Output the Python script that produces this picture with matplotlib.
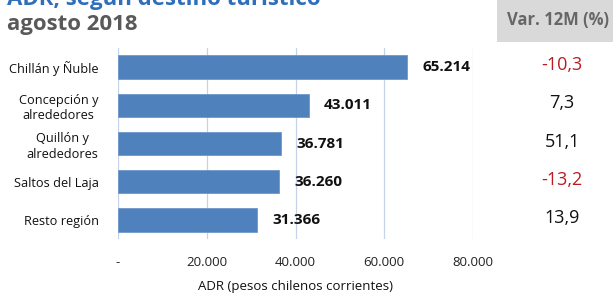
import matplotlib
matplotlib.use("Agg")
from matplotlib import pyplot as plt
from matplotlib.patches import Rectangle
from matplotlib.transforms import blended_transform_factory
import numpy as np

plt.rcParams['font.family'] = ['Open Sans', 'DejaVu Sans']

# datos
destinos = ['Chillán y Ñuble', 'Concepción y\nalrededores', 'Quillón y\nalrededores',
            'Saltos del Laja', 'Resto región']
adr = [65214, 43011, 36781, 36260, 31366]
var_12m = [-10.3, 7.3, 51.1, -13.2, 13.9]
x_ticks = [0, 20000, 40000, 60000, 80000]

def fmt_miles(v):
    if v == 0:
        return '-'
    return '{:,.0f}'.format(v).replace(',', '.')

W, H = 615, 298
fig = plt.figure(figsize=(W / 100, H / 100), dpi=100)
ax = fig.add_axes([118 / W, 1 - 239 / H, (473 - 118) / W, (239 - 48) / H])

y = np.arange(len(destinos))
ax.barh(y, adr, height=0.61, color='#4F81BD', edgecolor='#6E98CC', lw=0.6, zorder=3)
ax.set_ylim(len(destinos) - 0.5, -0.5)
ax.set_xlim(0, 80000)

ax.set_xticks(x_ticks)
ax.set_xticklabels([fmt_miles(v) for v in x_ticks], fontsize=9.5, color='#222222')
ax.grid(axis='x', color='#C5D3E8', lw=0.9, zorder=0)
ax.tick_params(axis='x', length=0, pad=12)
ax.tick_params(axis='y', length=0, pad=14)
ax.set_yticks(y)
ax.set_yticklabels(destinos, fontsize=9.2, color='#111111', multialignment='center',
                   linespacing=1.25)
for s in ax.spines.values():
    s.set_visible(False)

ax.set_xlabel('ADR (pesos chilenos corrientes)', fontsize=9.5, color='#111111', labelpad=8)

# etiquetas de valor
for yi, v in zip(y, adr):
    ax.text(v + 3400, yi, fmt_miles(v), va='center', ha='left', fontsize=11,
            fontweight='bold', color='#111111')

# columna de variacion
tr = blended_transform_factory(fig.transFigure, ax.transData)
for yi, v in zip(y, var_12m):
    c = '#B81D24' if v < 0 else '#111111'
    ax.text(562 / W, yi - 0.05, ('%.1f' % v).replace('.', ','), fontsize=13, color=c,
            ha='center', va='center', transform=tr)

fig.patches.append(Rectangle((497 / W, 1 - 42 / H), 116 / W, 42 / H, transform=fig.transFigure,
                             facecolor='#D9D9D9', edgecolor='none', zorder=0))
fig.text(558 / W, 1 - 20 / H, 'Var. 12M (%)', fontsize=12, fontweight='bold', color='#666666',
         ha='center', va='center')

# titulo
fig.text(7 / W, 1 - 5 / H, 'ADR, según destino turístico', fontsize=16, fontweight='bold',
         color='#2F6EBA', ha='left', va='baseline')
fig.text(7 / W, 1 - 30 / H, 'agosto 2018', fontsize=16, fontweight='bold',
         color='#595959', ha='left', va='baseline')

fig.savefig('out.png', dpi=100)
